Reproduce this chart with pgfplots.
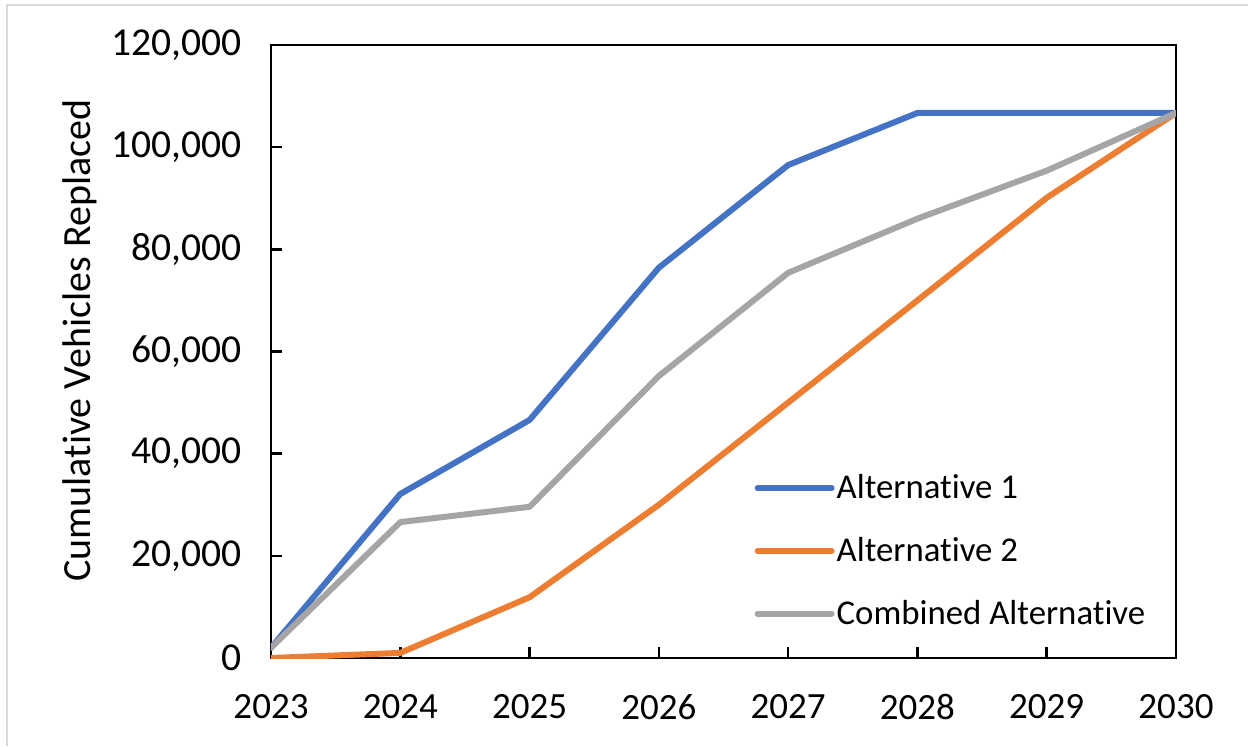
\documentclass[border=0pt]{standalone}
\usepackage{pgfplots}
\pgfplotsset{compat=1.18}
\usepackage{fontspec}
\setmainfont{Carlito}[Ligatures={NoCommon}]

\definecolor{altone}{HTML}{4472C4}
\definecolor{alttwo}{HTML}{ED7D31}
\definecolor{altcomb}{HTML}{A5A5A5}
\definecolor{chartframe}{HTML}{D9D9D9}

\begin{document}
\begin{tikzpicture}[x=1pt,y=1pt]
% page extent and the light chart-area frame (left and top edges)
\useasboundingbox (-135.5pt,-44pt) rectangle (488.5pt,329pt);
\draw[chartframe, line width=1.2pt] (-132pt,-44pt) -- (-132pt,326.5pt) -- (488.5pt,326.5pt);
\begin{axis}[
  at={(0pt,0pt)}, anchor=south west,
  scale only axis,
  width=452.5pt, height=306.5pt,
  xmin=2023, xmax=2030,
  ymin=0, ymax=120000,
  xtick={2023,2024,2025,2026,2027,2028,2029,2030},
  xticklabels={2023,2024,2025,2026,2027,2028,2029,2030},
  ytick={0,20000,40000,60000,80000,100000,120000},
  yticklabels={0,{20,000},{40,000},{60,000},{80,000},{100,000},{120,000}},
  scaled y ticks=false,
  tick pos=left,
  tick align=inside,
  major tick length=5.5pt,
  axis line style={line width=1.25pt, black},
  every tick/.style={line width=1.25pt, black},
  y tick label style={font=\fontsize{19.8}{23}\selectfont, xshift=-11pt},
  x tick label style={font=\fontsize{18.5}{22}\selectfont, yshift=-14.5pt},
  ylabel={Cumulative Vehicles Replaced},
  ylabel style={font=\fontsize{20}{24}\selectfont, at={(axis description cs:-0.211,0.518)}, anchor=center},
  legend cell align=left,
  legend style={
    at={(axis description cs:0.534,0.303)}, anchor=north west,
    draw=none, fill=none,
    font=\fontsize{17.4}{21}\selectfont,
    row sep=15.75pt, inner sep=0pt,
    nodes={inner sep=1pt},
  },
  legend image code/.code={\draw[#1, line cap=round] (0pt,0pt) -- (37pt,0pt);},
  every axis plot/.append style={line width=3pt, line join=round, line cap=round},
]
\addplot[altone] coordinates {
  (2023,2000) (2024,32100) (2025,46600) (2026,76400)
  (2027,96500) (2028,106700) (2029,106700) (2030,106700)
};
\addlegendentry{Alternative 1}
\addplot[alttwo] coordinates {
  (2023,0) (2024,1000) (2025,11900) (2026,30000)
  (2027,50000) (2028,70000) (2029,90100) (2030,106700)
};
\addlegendentry{Alternative 2}
\addplot[altcomb] coordinates {
  (2023,2000) (2024,26600) (2025,29600) (2026,55200)
  (2027,75400) (2028,86000) (2029,95400) (2030,106700)
};
\addlegendentry{Combined Alternative}
\end{axis}
\end{tikzpicture}
\end{document}
